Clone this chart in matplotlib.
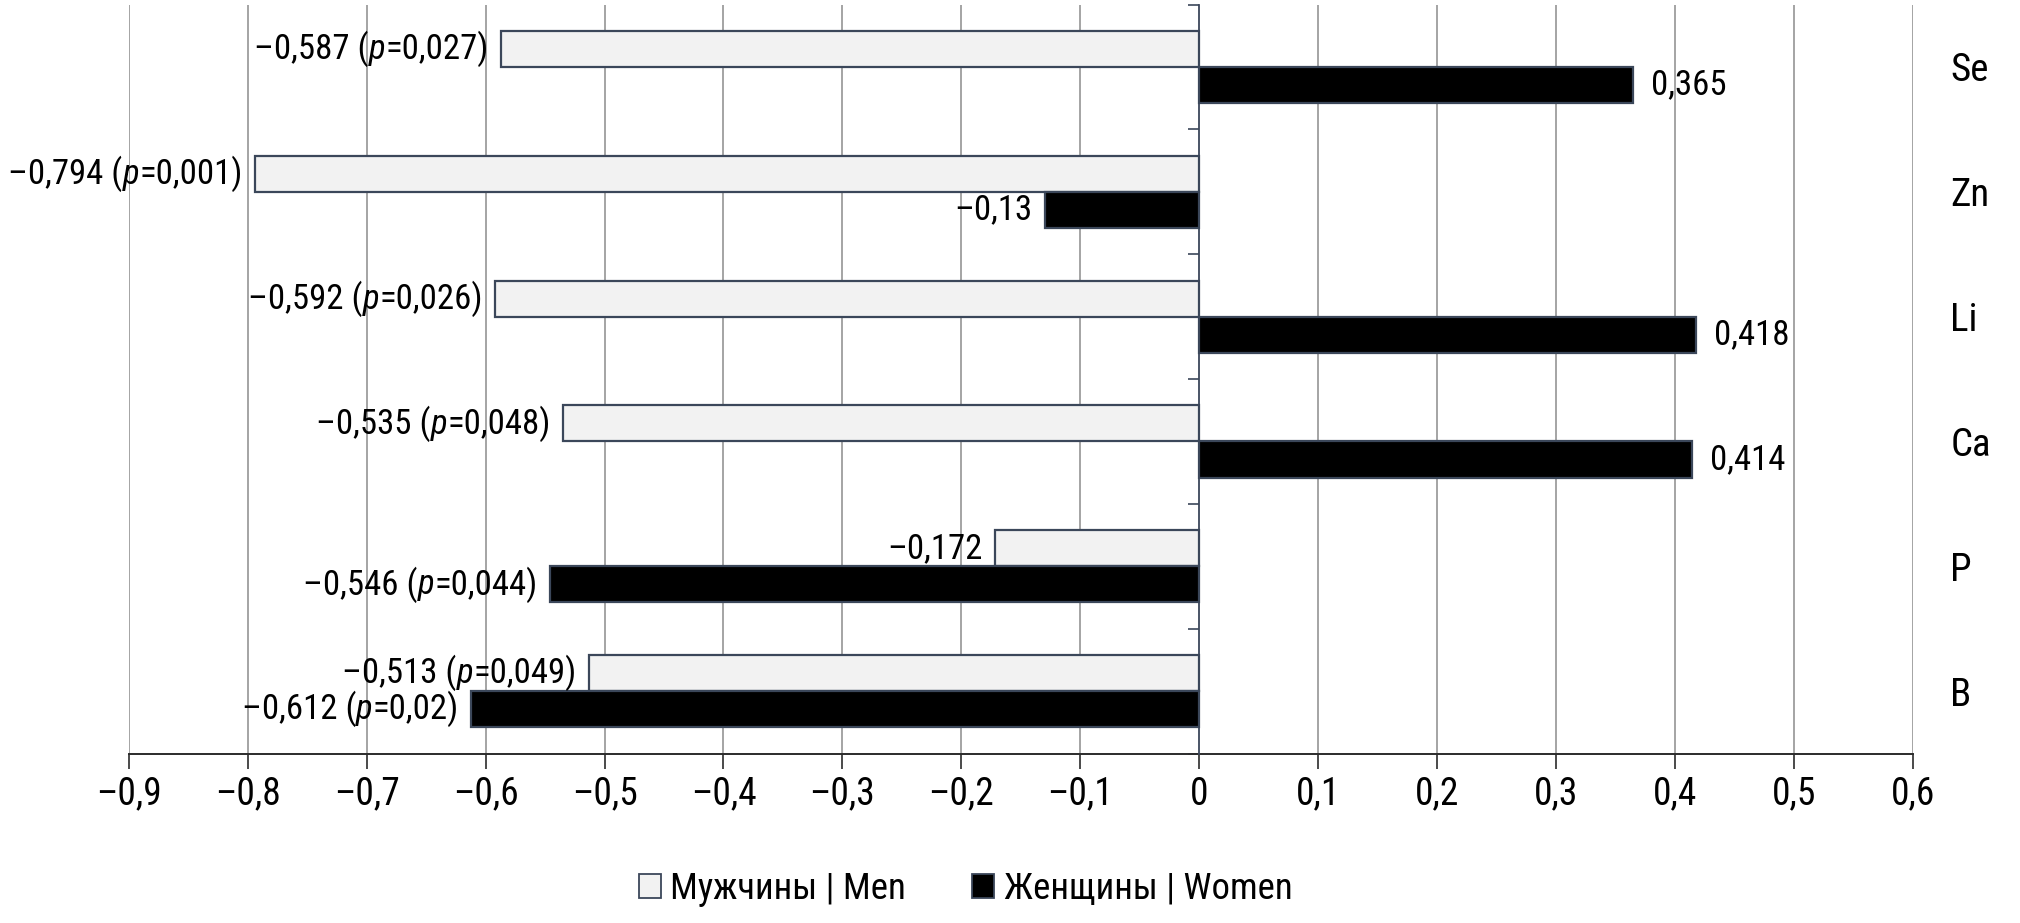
import matplotlib
matplotlib.use('Agg')
import matplotlib.pyplot as plt
from matplotlib.offsetbox import TextArea, HPacker, AnnotationBbox
from matplotlib.patches import Patch
import numpy as np

# data (bottom -> top)
elements = ['B', 'P', 'Ca', 'Li', 'Zn', 'Se']
men = [-0.513, -0.172, -0.535, -0.592, -0.794, -0.587]
men_p = ['0,049', None, '0,048', '0,026', '0,001', '0,027']
women = [-0.612, -0.546, 0.414, 0.418, -0.13, 0.365]
women_p = ['0,02', '0,044', None, None, None, None]
xticks = [-0.9, -0.8, -0.7, -0.6, -0.5, -0.4, -0.3, -0.2, -0.1, 0, 0.1, 0.2, 0.3, 0.4, 0.5, 0.6]
legend_names = ['Мужчины | Men', 'Женщины | Women']

FAM = ['Liberation Sans Narrow', 'Arial Narrow', 'Roboto Condensed', 'Archivo Narrow',
       'Liberation Sans', 'DejaVu Sans']
FS = 25
plt.rcParams['font.family'] = FAM
plt.rcParams['font.size'] = FS

EDGE = '#3b475a'
MEN_C = '#f2f2f2'
WOMEN_C = '#000000'


def fmt(v):
    s = ('%g' % abs(round(v, 3))).replace('.', ',')
    return ('–' + s) if v < 0 else s


fig = plt.figure(figsize=(20.2, 9.23), dpi=100)
ax = fig.add_axes([0.0638, 0.1836, 0.8831, 0.8115])

y = np.arange(len(elements))
h = 0.289
ax.barh(y + h / 2, men, height=h, color=MEN_C, edgecolor=EDGE, linewidth=1.6, zorder=3)
ax.barh(y - h / 2, women, height=h, color=WOMEN_C, edgecolor=EDGE, linewidth=1.6, zorder=3)

ax.set_xlim(xticks[0], xticks[-1])
ax.set_ylim(-0.5, len(elements) - 0.5)

# grid
for t in xticks:
    if t != 0:
        ax.axvline(t, color='#8c8c8c', lw=1.1, zorder=1)

# spines
for s in ['top', 'right']:
    ax.spines[s].set_visible(False)
ax.spines['bottom'].set_color('#2b2b2b')
ax.spines['bottom'].set_linewidth(1.4)
ax.spines['left'].set_position(('data', 0))
ax.spines['left'].set_color(EDGE)
ax.spines['left'].set_linewidth(1.3)
ax.spines['left'].set_zorder(4)

ax.set_xticks(xticks)
ax.set_xticklabels([fmt(t) for t in xticks])
ax.tick_params(axis='x', length=11, width=1.2, color='#2b2b2b', pad=5, labelsize=27)

ax.set_yticks(y)
ax.set_yticklabels(elements)
ax.set_yticks(np.arange(len(elements) + 1) - 0.5, minor=True)
ax.tick_params(axis='y', which='major', length=0, left=False, right=True,
               labelleft=False, labelright=True, pad=27, labelsize=28)
ax.tick_params(axis='y', which='minor', length=8, width=1.2, color=EDGE,
               left=True, right=False, direction='out')


def put_label(x, yy, p):
    props = dict(fontsize=FS, color='black', family=FAM)
    txt = fmt(x)
    if p is None:
        box = TextArea(txt, textprops=props)
    else:
        box = HPacker(children=[TextArea(txt + ' (', textprops=props),
                                TextArea('p', textprops=dict(props, style='italic')),
                                TextArea('=' + p + ')', textprops=props)],
                      align='baseline', pad=0, sep=0)
    neg = x < 0
    ab = AnnotationBbox(box, (x, yy), xybox=(-9 if neg else 13, 0),
                        xycoords='data', boxcoords='offset points',
                        box_alignment=(1 if neg else 0, 0.5),
                        frameon=False, pad=0, zorder=5)
    ax.add_artist(ab)


for i in range(len(elements)):
    put_label(men[i], y[i] + h / 2, men_p[i])
    put_label(women[i], y[i] - h / 2, women_p[i])

handles = [Patch(facecolor=MEN_C, edgecolor=EDGE, linewidth=1.3),
           Patch(facecolor=WOMEN_C, edgecolor=EDGE, linewidth=1.3)]
fig.legend(handles, legend_names, loc='center', bbox_to_anchor=(0.478, 0.037),
           ncol=2, frameon=False, fontsize=26.5, handlelength=0.6, handleheight=0.65,
           handletextpad=0.25, columnspacing=1.8)

fig.savefig('out.png', dpi=100)
